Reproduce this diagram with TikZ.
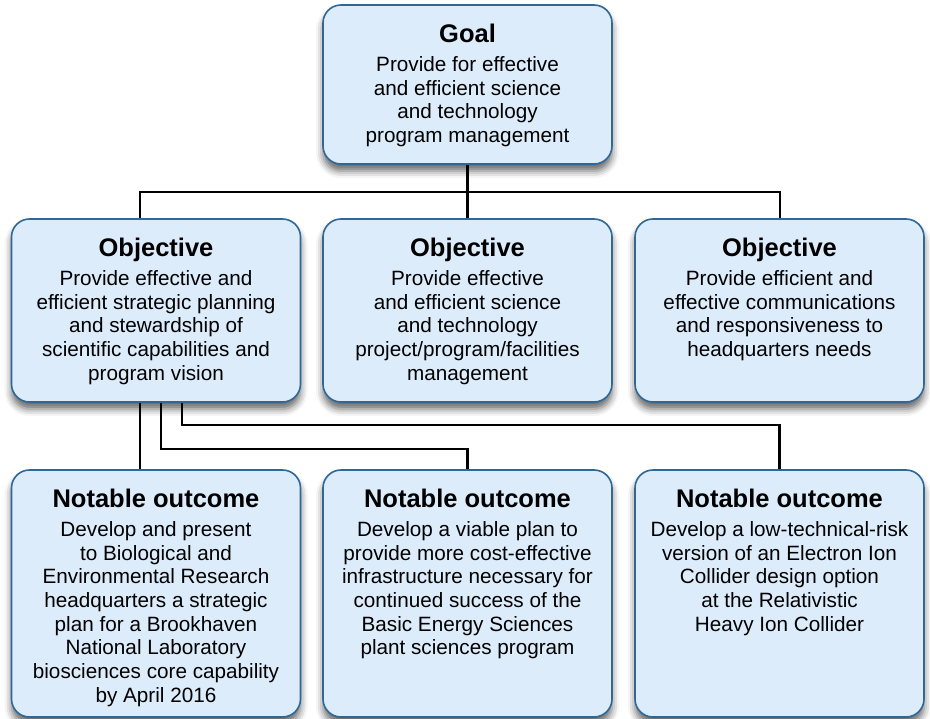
\documentclass[tikz,border=0pt]{standalone}
\usepackage{fontspec}
\setmainfont{Liberation Sans}
\usetikzlibrary{calc,shadows.blur}

\definecolor{boxfill}{RGB}{221,236,251}
\definecolor{boxline}{RGB}{47,104,150}

\begin{document}
\begin{tikzpicture}[x=1pt,y=-1pt,
	box/.style={draw=boxline,line width=1.6pt,fill=boxfill,rounded corners=18pt,inner sep=0pt,minimum width=289pt,
		blur shadow={shadow xshift=0pt,shadow yshift=-7pt,shadow blur radius=7pt,shadow opacity=60}},
	title/.style={anchor=base,inner sep=0pt,font=\fontsize{25.5}{28}\selectfont\bfseries},
	body/.style={anchor=north,inner sep=0pt,align=center,font=\fontsize{20.7}{23.7}\selectfont},
	link/.style={line width=2.7pt,draw=black}]
	\useasboundingbox (0,0) rectangle (930,719);
	
	% Goal
	\node [box,minimum height=159pt] (goal) at (467.5,84.5) {};
	% Objectives
	\node [box,minimum height=183pt] (obj1) at (156,310.5) {};
	\node [box,minimum height=183pt] (obj2) at (467.5,310.5) {};
	\node [box,minimum height=183pt] (obj3) at (779.5,310.5) {};
	% Notable outcomes
	\node [box,minimum height=247pt] (out1) at (156,593.5) {};
	\node [box,minimum height=247pt] (out2) at (467.5,593.5) {};
	\node [box,minimum height=247pt] (out3) at (779.5,593.5) {};
	
	% Text Node
	\node [title] (goalT) at ($(goal.north)+(0,38)$) {Goal};
	\node [body] (goalB) at ($(goal.north)+(0,52)$) {Provide for effective\\and efficient science\\and technology\\program management};
	% Text Node
	\node [title] (obj1T) at ($(obj1.north)+(0,38)$) {Objective};
	\node [body] (obj1B) at ($(obj1.north)+(0,52)$) {Provide effective and\\efficient strategic planning\\and stewardship of\\scientific capabilities and\\program vision};
	% Text Node
	\node [title] (obj2T) at ($(obj2.north)+(0,38)$) {Objective};
	\node [body] (obj2B) at ($(obj2.north)+(0,52)$) {Provide effective\\and efficient science\\and technology\\project/program/facilities\\management};
	% Text Node
	\node [title] (obj3T) at ($(obj3.north)+(0,38)$) {Objective};
	\node [body] (obj3B) at ($(obj3.north)+(0,52)$) {Provide efficient and\\effective communications\\and responsiveness to\\headquarters needs};
	% Text Node
	\node [title] (out1T) at ($(out1.north)+(0,38)$) {Notable outcome};
	\node [body] (out1B) at ($(out1.north)+(0,52)$) {Develop and present\\to Biological and\\Environmental Research\\headquarters a strategic\\plan for a Brookhaven\\National Laboratory\\biosciences core capability\\by April 2016};
	% Text Node
	\node [title] (out2T) at ($(out2.north)+(0,38)$) {Notable outcome};
	\node [body] (out2B) at ($(out2.north)+(0,52)$) {Develop a viable plan to\\provide more cost-effective\\infrastructure necessary for\\continued success of the\\Basic Energy Sciences\\plant sciences program};
	% Text Node
	\node [title] (out3T) at ($(out3.north)+(0,38)$) {Notable outcome};
	\node [body] (out3B) at ($(out3.north)+(0,52)$) {Develop a low-technical-risk\\version of an Electron Ion\\Collider design option\\at the Relativistic\\Heavy Ion Collider};
	
	% Bends of the connectors
	\coordinate (busL) at (140,192);
	\coordinate (busR) at (780,192);
	\coordinate (midBend) at (161,449);
	\coordinate (farBend) at (182,425);
	
	% Goal to objectives
	\draw [link] (goal.south) -- (obj2.north);
	\draw [link] (obj1.north -| busL) -- (busL) -- (busR) -- (obj3.north -| busR);
	% Objective to outcomes
	\draw [link] (obj1.south -| busL) -- (out1.north -| busL);
	\draw [link] (obj1.south -| midBend) -- (midBend) -| (out2.north);
	\draw [link] (obj1.south -| farBend) -- (farBend) -| (out3.north);
\end{tikzpicture}
\end{document}
